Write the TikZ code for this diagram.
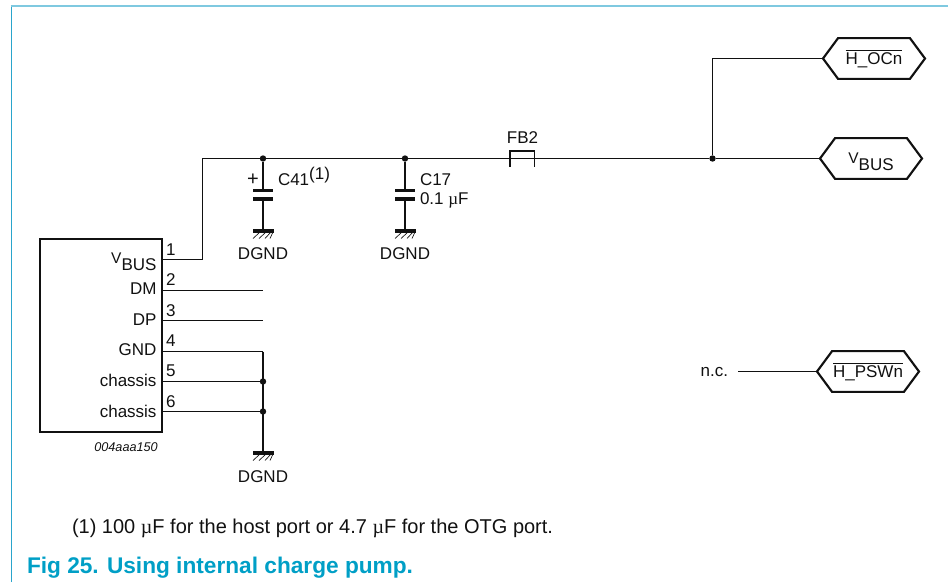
\documentclass[tikz,border=0pt]{standalone}
\usepackage{fontspec}
\setmainfont{Liberation Sans}
\newfontfamily\muf{Liberation Serif}
\usetikzlibrary{shapes.symbols}
\definecolor{capblue}{HTML}{009FC6}
\definecolor{frameblue}{HTML}{2AA5CC}
\definecolor{ink}{HTML}{111111}
\newcommand{\um}{{\muf µ}}
\newcommand{\vbusname}{{\fontsize{11.6}{14}\selectfont V}\raisebox{-5.2pt}{BUS}}
\tikzset{
  x=0.75pt,y=-0.75pt,
  wire/.style={draw=ink,line width=1pt},
  thin wire/.style={draw=ink,line width=0.8pt},
  plate/.style={draw=ink,line width=2.6pt},
  hatchline/.style={draw=ink,line width=0.5pt},
  jdot/.style={circle,fill=ink,draw=none,minimum size=4.8pt,inner sep=0pt,outer sep=0pt},
  lbl/.style={font=\fontsize{12.75}{15}\selectfont,text=ink,inner sep=0pt,outer sep=0pt},
  port/.style={signal,signal to=west and east,signal pointer angle=107,draw=ink,line width=1.6pt,
     minimum width=76.5pt,minimum height=30.5pt,inner sep=0pt,outer sep=0pt,
     font=\fontsize{12.75}{15}\selectfont,text=ink,fill=white},
  chip/.style={draw=ink,line width=2.2pt,inner sep=0pt,outer sep=0pt,minimum width=91.5pt,minimum height=144.75pt},
  captext/.style={font=\bfseries\fontsize{17}{20}\selectfont,text=capblue,inner sep=0pt,outer sep=0pt},
  notetext/.style={font=\fontsize{15}{18}\selectfont,text=ink,inner sep=0pt,outer sep=0pt},
}
\newcommand{\gndsym}[2]{%
  \draw[plate] (#1-10,#2) -- (#1+11,#2);
  \foreach \k/\d in {-10/7,-4/7,2/6,7/3}{\draw[hatchline] (#1+\k,#2+7.5) -- (#1+\k+\d,#2+1);}
}
\begin{document}
\begin{tikzpicture}
\useasboundingbox (0,0) rectangle (948,582);
% frame
\draw[frameblue,line width=0.75pt] (11,582) -- (11,6);
\draw[frameblue!60,line width=1.1pt] (10.5,6) -- (948,6);
% chip
\node[chip] (u) at (101,335.5) {};
\coordinate (p1) at (162,259.5); \coordinate (p2) at (162,290.5); \coordinate (p3) at (162,320.5);
\coordinate (p4) at (162,351.5); \coordinate (p5) at (162,381.5); \coordinate (p6) at (162,411.5);
\coordinate (e2) at (263,290.5); \coordinate (e3) at (263,320.5);
\coordinate (b1) at (202.5,259.5); \coordinate (t1) at (202.5,158.5);
\coordinate (g4) at (263,351.5);
% junctions
\node[jdot] (j1) at (263,158.5) {};
\node[jdot] (j2) at (405,158.5) {};
\node[jdot] (j3) at (712.5,158.5) {};
\node[jdot] (j5) at (263,381.5) {};
\node[jdot] (j6) at (263,411.5) {};
% ports
\node[port] (ocn) at (874,58.5) {$\overline{\mbox{H\_OCn}}$};
\node[port] (vbus) at (871,158.5) {\rule{0pt}{12.9pt}\vbusname};
\node[port] (psw) at (868,371.5) {$\overline{\mbox{H\_PSWn}}$};
% wires
\draw[wire] (p1) -- (b1) -- (t1) -- (j1) -- (j2);
\coordinate (f1) at (510,158.5); \coordinate (f2) at (534.5,158.5);
\draw[wire] (j2) -- (f1);
\draw[wire] (f2) -- (j3) -- (vbus.west);
\draw[thin wire] (f1) ++(0,8) -- ++(0,-15.5) -| ++(24.5,15.5);
\draw[wire] (f1) -- (f2) ;
\coordinate (oc) at (712.5,58.5);
\draw[wire] (j3) -- (oc) -- (ocn.west);
\coordinate (nc) at (738,371.5);
\node[lbl,anchor=base east] (nctext) at (728,376) {n.c.};
\draw[wire] (nc) -- (psw.west);
\draw[wire] (p2) -- (e2);
\draw[wire] (p3) -- (e3);
\draw[wire] (p4) -- (g4);
\draw[wire] (p5) -- (j5);
\draw[wire] (p6) -- (j6);
\coordinate (g0) at (263,453);
\draw[wire] (g4) -- (g0);
% caps
\coordinate (c1a) at (263,190.5); \coordinate (c1b) at (263,199); \coordinate (c1g) at (263,231);
\coordinate (c2a) at (405,190.5); \coordinate (c2b) at (405,199); \coordinate (c2g) at (405,231);
\draw[wire] (j1) -- (c1a); \draw[wire] (c1b) -- (c1g);
\draw[wire] (j2) -- (c2a); \draw[wire] (c2b) -- (c2g);
\draw[plate] (253,190.5) -- (273,190.5); \draw[plate] (253,199) -- (273,199);
\draw[plate] (395,190.5) -- (415,190.5); \draw[plate] (395,199) -- (415,199);
\gndsym{263}{231}
\gndsym{405}{231}
\gndsym{263}{453}
% labels
\node[anchor=base,inner sep=0pt,text=ink,font=\fontsize{15}{18}\selectfont] (pl) at (253,185.5) {+};
\node[lbl,anchor=base west] (c41) at (278,185) {C41\raisebox{0.65ex}{(1)}};
\node[lbl,anchor=base west] (c17) at (420,185) {C17};
\node[lbl,anchor=base west] (c17v) at (420,204.5) {0.1 \um F};
\node[lbl,anchor=base] (fb) at (522.5,143) {FB2};
\node[lbl,anchor=base] (d1) at (263,259.5) {DGND};
\node[lbl,anchor=base] (d2) at (405,259.5) {DGND};
\node[lbl,anchor=base] (d3) at (263,482.5) {DGND};
% pin names
\node[lbl,anchor=base east] (n1) at (156.5,263.5) {\vbusname};
\node[lbl,anchor=base east] (n2) at (156.5,294.5) {DM};
\node[lbl,anchor=base east] (n3) at (156.5,325) {DP};
\node[lbl,anchor=base east] (n4) at (156.5,355.5) {GND};
\node[lbl,anchor=base east] (n5) at (156.5,386) {chassis};
\node[lbl,anchor=base east] (n6) at (156.5,417) {chassis};
\foreach \i/\yy in {1/255,2/285,3/316,4/346,5/376,6/407}{
  \node[lbl,anchor=base west] (pn\i) at (166,\yy) {\i};
}
\node[anchor=base east,inner sep=0pt,font=\itshape\fontsize{9.5}{11}\selectfont,text=ink] (id) at (158,451) {004aaa150};
% notes
\node[notetext,anchor=base west] (note) at (72,533) {(1) 100 \um F for the host port or 4.7 \um F for the OTG port.};
\node[captext,anchor=base west] (figno) at (27,573) {Fig 25.};
\node[captext,anchor=base west] (figt) at (107,573) {Using internal charge pump.};
\end{tikzpicture}
\end{document}
